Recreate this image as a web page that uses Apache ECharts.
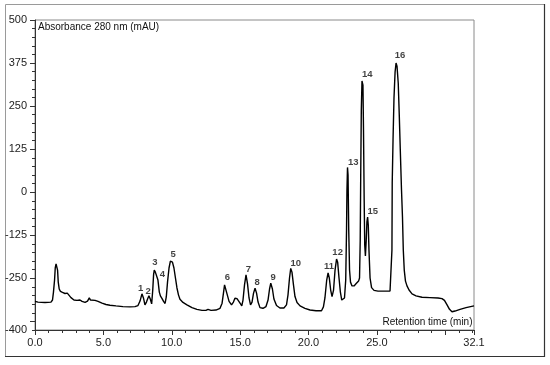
<!DOCTYPE html>
<html>
<head>
<meta charset="utf-8">
<script src="https://cdn.jsdelivr.net/npm/echarts@6/dist/echarts.min.js"></script>
<style>html,body{margin:0;padding:0;background:#fff}#c{width:550px;height:365px}</style>
</head>
<body>
<div id="c"></div>
<script>
// Retention time (min)
const time = [0.00,0.22,0.73,1.17,1.28,1.35,1.43,1.48,1.54,1.59,1.65,1.70,1.77,1.86,2.01,2.19,2.36,2.49,2.63,2.85,3.07,3.29,3.44,3.66,3.84,3.97,4.06,4.17,4.39,4.61,4.90,5.19,5.48,5.92,6.43,6.95,7.31,7.53,7.68,7.82,7.93,8.04,8.15,8.26,8.33,8.43,8.53,8.61,8.67,8.72,8.80,8.90,8.99,9.09,9.17,9.28,9.40,9.51,9.60,9.69,9.80,9.90,9.97,10.05,10.16,10.27,10.38,10.49,10.60,10.82,11.11,11.48,11.84,12.21,12.50,12.65,12.87,13.23,13.53,13.68,13.79,13.86,13.91,13.97,14.06,14.19,14.37,14.51,14.62,14.77,14.89,15.03,15.12,15.21,15.32,15.43,15.54,15.65,15.76,15.87,15.98,16.09,16.20,16.31,16.45,16.67,16.89,17.04,17.15,17.24,17.36,17.47,17.66,17.91,18.20,18.39,18.50,18.61,18.70,18.79,18.90,19.01,19.16,19.38,19.74,20.11,20.55,20.95,21.09,21.20,21.33,21.43,21.52,21.62,21.72,21.83,21.94,22.05,22.13,22.23,22.33,22.43,22.52,22.63,22.72,22.78,22.81,22.85,22.89,22.94,23.00,23.07,23.18,23.33,23.47,23.66,23.73,23.78,23.82,23.86,23.91,23.95,23.98,24.02,24.07,24.11,24.16,24.22,24.27,24.32,24.37,24.42,24.50,24.61,24.79,25.08,25.59,25.96,26.08,26.10,26.12,26.18,26.25,26.33,26.40,26.47,26.56,26.64,26.71,26.80,26.87,26.93,27.00,27.09,27.20,27.35,27.57,27.86,28.30,28.88,29.47,29.76,29.94,30.13,30.31,30.49,30.71,31.08,31.52,32.10];
// Absorbance 280 nm (mAU)
const absorbance = [-317,-319,-320,-319,-313,-290,-255,-220,-208,-210,-226,-261,-281,-288,-291,-294,-293,-298,-306,-313,-314,-313,-317,-320,-316,-307,-313,-315,-314,-317,-322,-326,-328,-330,-332,-333,-332,-329,-316,-295,-307,-327,-319,-307,-301,-310,-324,-284,-240,-226,-232,-235,-255,-290,-301,-308,-317,-323,-304,-261,-220,-200,-197,-203,-220,-249,-278,-298,-311,-320,-327,-335,-340,-343,-343,-340,-343,-342,-337,-322,-290,-269,-264,-269,-298,-317,-327,-319,-308,-309,-313,-324,-330,-313,-269,-240,-266,-307,-327,-319,-293,-279,-293,-319,-335,-337,-332,-313,-281,-264,-281,-310,-329,-336,-336,-327,-298,-249,-221,-232,-269,-303,-320,-330,-337,-342,-344,-344,-333,-307,-255,-234,-249,-284,-303,-284,-226,-194,-203,-249,-290,-313,-317,-307,-255,-110,6,72,50,-110,-226,-261,-272,-272,-266,-258,-249,-139,65,239,323,328,311,181,-23,-153,-185,-139,-86,-72,-95,-168,-249,-277,-285,-287,-287,-287,-284,-168,27,152,274,349,375,366,317,218,123,6,-72,-168,-226,-258,-272,-284,-295,-301,-305,-306,-307,-309,-314,-327,-340,-347,-345,-340,-335,-330];
// Peak labels
const peakNames = ['1','2','3','4','5','6','7','8','9','10','11','12','13','14','15','16'];
const peakLabelTime = [7.73,8.28,8.77,9.31,10.11,14.06,15.60,16.25,17.42,19.06,21.50,22.13,23.27,24.30,24.69,26.69];
const peakLabelAbs = [-279,-287,-205,-238,-180,-247,-224,-263,-247,-206,-214,-174,86,342,-57,396];
// Axis ticks and labels
const yLabelValues = [500,375,250,125,0,-125,-250,-400];
const yMajorTicks = [500,375,250,125,0,-125,-250,-375];
const xLabelValues = [0,5,10,15,20,25,32.1];
const xMajorTicks = [0,5,10,15,20,25,30,32.1];

const chart = echarts.init(document.getElementById('c'), null, {renderer:'canvas'});
const font = 'Liberation Sans, Arial, sans-serif';
const axisCol = '#333';
const option = {
  animation: false,
  grid: {left:35, right:76, top:20, bottom:35, show:true, borderColor:'#8a8a8a', borderWidth:1},
  xAxis: [
    {type:'value', min:0, max:32.1, position:'bottom',
     axisLine:{show:true, onZero:false, lineStyle:{color:axisCol, width:1}},
     axisTick:{show:true, customValues:xMajorTicks, length:5, lineStyle:{color:axisCol}},
     axisLabel:{show:true, customValues:xLabelValues, formatter:v=>Number(v).toFixed(1), margin:7, fontFamily:font, fontSize:11, color:'#222'},
     splitLine:{show:false}},
    {type:'value', min:0, max:32.1, interval:1, position:'bottom',
     axisLine:{show:false, onZero:false}, axisTick:{show:true, length:3, lineStyle:{color:axisCol}},
     axisLabel:{show:false}, splitLine:{show:false}}
  ],
  yAxis: [
    {type:'value', min:-400, max:500, position:'left',
     axisLine:{show:true, onZero:false, lineStyle:{color:axisCol, width:1}},
     axisTick:{show:true, customValues:yMajorTicks, length:5, lineStyle:{color:axisCol}},
     axisLabel:{show:true, customValues:yLabelValues, margin:8, fontFamily:font, fontSize:11, color:'#222'},
     splitLine:{show:false}},
    {type:'value', min:-400, max:500, interval:25, position:'left',
     axisLine:{show:false, onZero:false}, axisTick:{show:true, length:3, lineStyle:{color:axisCol}},
     axisLabel:{show:false}, splitLine:{show:false}}
  ],
  series: [
    {type:'line', xAxisIndex:0, yAxisIndex:0, showSymbol:false, symbol:'none',
     lineStyle:{color:'#000', width:1.4}, data: time.map((t,i)=>[t, absorbance[i]])},
    {type:'scatter', xAxisIndex:0, yAxisIndex:0, symbolSize:0, silent:true,
     data: peakNames.map((n,i)=>({value:[peakLabelTime[i], peakLabelAbs[i]], name:n})),
     label:{show:true, position:'inside', formatter:p=>p.name, fontFamily:font, fontSize:9.5, fontWeight:'bold', color:'#111'}}
  ],
  graphic: [
    {type:'rect', shape:{x:5.5, y:4.5, width:539, height:352}, style:{fill:'none', stroke:'#9a9a9a', lineWidth:1}, silent:true},
    {type:'line', shape:{x1:5, y1:356.5, x2:545, y2:356.5}, style:{stroke:'#333', lineWidth:1.2}, silent:true},
    {type:'line', shape:{x1:544.5, y1:4, x2:544.5, y2:357}, style:{stroke:'#333', lineWidth:1.2}, silent:true},
    {type:'text', left:38, top:22.5, style:{text:'Absorbance 280 nm (mAU)', font:'10px '+font, fill:'#111'}},
    {type:'text', right:77.5, top:317.5, style:{text:'Retention time (min)', font:'10px '+font, fill:'#111'}}
  ]
};
chart.setOption(option);
</script>
</body>
</html>
